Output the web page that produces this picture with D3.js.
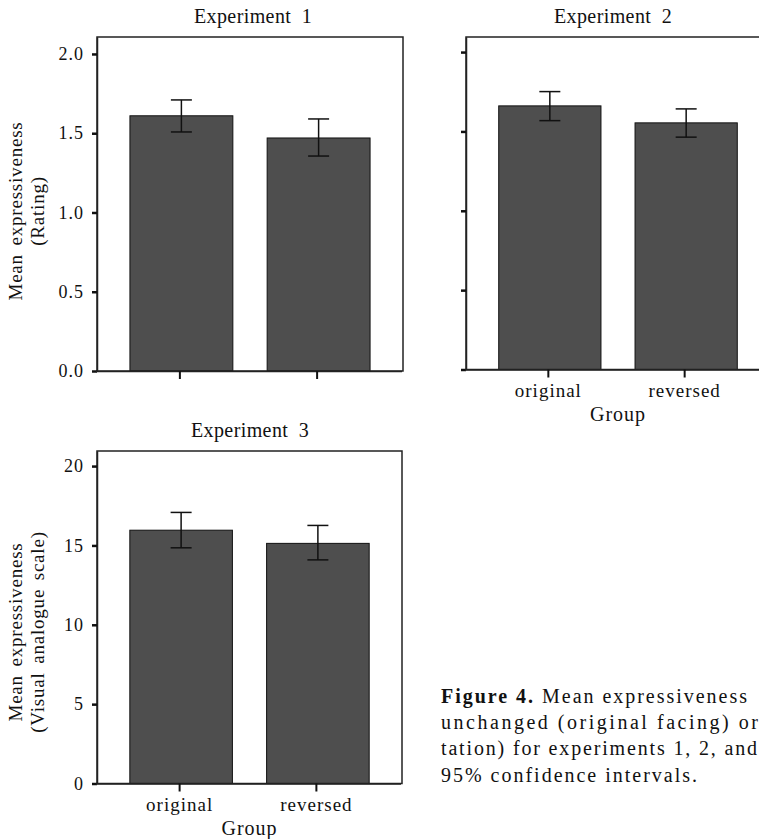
<!DOCTYPE html>
<html>
<head>
<meta charset="utf-8">
<script src="https://cdn.jsdelivr.net/npm/d3@7"></script>
<style>
  body { margin: 0; background: #fff; }
  svg { display: block; }
  text { font-family: "Liberation Serif", "Times New Roman", serif; fill: #111; }
</style>
</head>
<body>
<svg id="fig" width="759" height="839"></svg>
<script>
// data
var groups = ["original", "reversed"];

var exp1Mean = [1.61, 1.47];
var exp1Lo   = [1.508, 1.356];
var exp1Hi   = [1.71, 1.59];

var exp2Mean = [1.661, 1.554];
var exp2Lo   = [1.568, 1.464];
var exp2Hi   = [1.751, 1.642];

var exp3Mean = [15.96, 15.13];
var exp3Lo   = [14.85, 14.09];
var exp3Hi   = [17.08, 16.26];

var ratingTicks = [0, 0.5, 1.0, 1.5, 2.0];
var vasTicks = [0, 5, 10, 15, 20];

var captionLines = [
    "unchanged (original facing) or",
    "tation) for experiments 1, 2, and",
    "95% confidence intervals."
];
// visible width of each caption line (the block is justified)
var captionWidths = [306, 317, 316, 256];

var svg = d3.select('#fig');

function drawPanel(opt) {
    var x = d3.scaleBand()
        .domain(groups)
        .range([opt.left, opt.right])
        .paddingInner(0.25)
        .paddingOuter(0.24);

    var y = d3.scaleLinear()
        .domain([0, opt.yMax])
        .range([opt.bottom, opt.top]);

    var g = svg.append('g');

    var rows = groups.map(function (d, i) {
        return { group: d, mean: opt.mean[i], lo: opt.lo[i], hi: opt.hi[i] };
    });

    // bars
    g.selectAll('rect.bar')
        .data(rows)
        .enter()
        .append('rect')
        .attr('class', 'bar')
        .attr('x', function (d) { return x(d.group); })
        .attr('width', x.bandwidth())
        .attr('y', function (d) { return y(d.mean); })
        .attr('height', function (d) { return y(0) - y(d.mean); })
        .attr('fill', '#4e4e4e')
        .attr('stroke', '#111')
        .attr('stroke-width', 1);

    // error bars
    var cap = 10.5;
    var mid = function (d) { return x(d.group) + x.bandwidth() / 2; };
    var eb = g.selectAll('g.err')
        .data(rows)
        .enter()
        .append('g')
        .attr('class', 'err')
        .attr('stroke', '#111')
        .attr('stroke-width', 1.5);
    eb.append('line')
        .attr('x1', mid)
        .attr('x2', mid)
        .attr('y1', function (d) { return y(d.lo); })
        .attr('y2', function (d) { return y(d.hi); });
    eb.append('line')
        .attr('x1', function (d) { return mid(d) - cap; })
        .attr('x2', function (d) { return mid(d) + cap; })
        .attr('y1', function (d) { return y(d.hi); })
        .attr('y2', function (d) { return y(d.hi); });
    eb.append('line')
        .attr('x1', function (d) { return mid(d) - cap; })
        .attr('x2', function (d) { return mid(d) + cap; })
        .attr('y1', function (d) { return y(d.lo); })
        .attr('y2', function (d) { return y(d.lo); });

    // frame
    g.append('rect')
        .attr('x', opt.left)
        .attr('y', opt.top)
        .attr('width', opt.right - opt.left)
        .attr('height', opt.bottom - opt.top)
        .attr('fill', 'none')
        .attr('stroke', '#222')
        .attr('stroke-width', 1.5);

    // y axis
    var yAxis = d3.axisLeft(y)
        .tickValues(opt.ticks)
        .tickSize(5)
        .tickSizeOuter(0)
        .tickPadding(8)
        .tickFormat(opt.yLabels ? opt.fmt : '');
    var ya = g.append('g')
        .attr('transform', 'translate(' + opt.left + ',0)')
        .call(yAxis);
    ya.select('.domain').attr('stroke', '#222').attr('stroke-width', 1.5);
    ya.selectAll('.tick line').attr('stroke', '#111').attr('stroke-width', 2.5);
    ya.selectAll('.tick text')
        .style('font-family', '"Liberation Serif", "Times New Roman", serif')
        .style('font-size', '18px')
        .style('letter-spacing', '1px')
        .attr('fill', '#111');

    // x axis
    var xAxis = d3.axisBottom(x)
        .tickSize(8)
        .tickSizeOuter(0)
        .tickPadding(6)
        .tickFormat(opt.xLabels ? null : '');
    var xa = g.append('g')
        .attr('transform', 'translate(-1.5,' + opt.bottom + ')')
        .call(xAxis);
    xa.select('.domain').attr('stroke', '#222').attr('stroke-width', 1.5);
    xa.selectAll('.tick line').attr('stroke', '#111').attr('stroke-width', 2);
    xa.selectAll('.tick text')
        .style('font-family', '"Liberation Serif", "Times New Roman", serif')
        .style('font-size', '19px')
        .style('letter-spacing', '1px')
        .attr('fill', '#111');

    if (opt.xLabels) {
        g.append('text')
            .attr('x', (opt.left + opt.right) / 2)
            .attr('y', opt.bottom + 51)
            .attr('text-anchor', 'middle')
            .style('font-size', '20px')
            .style('letter-spacing', '1px')
            .text('Group');
    }

    // title
    g.append('text')
        .attr('x', opt.titleX)
        .attr('y', opt.top - 14)
        .attr('text-anchor', 'middle')
        .style('font-size', '20px')
        .style('letter-spacing', '0.4px')
        .style('word-spacing', '5px')
        .text(opt.title);

    // y title
    if (opt.yTitle) {
        var yt = g.append('text')
            .attr('transform', 'translate(0,' + opt.yTitleY + ') rotate(-90)')
            .attr('text-anchor', 'middle')
            .style('font-size', '19px')
            .style('letter-spacing', '0.8px')
            .style('word-spacing', '3px');
        yt.append('tspan').attr('x', 0).attr('y', 22).text(opt.yTitle[0]);
        yt.append('tspan').attr('x', 0).attr('y', 44).text(opt.yTitle[1]);
    }
}

drawPanel({
    title: 'Experiment 1', titleX: 253,
    left: 97, right: 403, top: 37, bottom: 371,
    yMax: 2.107, ticks: ratingTicks, fmt: d3.format('.1f'),
    mean: exp1Mean, lo: exp1Lo, hi: exp1Hi,
    yLabels: true, xLabels: false,
    yTitle: ['Mean expressiveness', '(Rating)'], yTitleY: 211
});

drawPanel({
    title: 'Experiment 2', titleX: 613,
    left: 466, right: 770, top: 37, bottom: 369.5,
    yMax: 2.095, ticks: ratingTicks, fmt: d3.format('.1f'),
    mean: exp2Mean, lo: exp2Lo, hi: exp2Hi,
    yLabels: false, xLabels: true
});

drawPanel({
    title: 'Experiment 3', titleX: 250,
    left: 97, right: 402, top: 451, bottom: 783.5,
    yMax: 20.95, ticks: vasTicks, fmt: d3.format('d'),
    mean: exp3Mean, lo: exp3Lo, hi: exp3Hi,
    yLabels: true, xLabels: true,
    yTitle: ['Mean expressiveness', '(Visual analogue scale)'], yTitleY: 632
});

// caption
var cap = svg.append('text')
    .attr('x', 441)
    .attr('y', 703)
    .attr('textLength', captionWidths[0])
    .attr('lengthAdjust', 'spacing')
    .style('font-size', '20px');
cap.append('tspan').style('font-weight', 'bold').text('Figure 4.');
cap.append('tspan').text(' Mean expressiveness');
captionLines.forEach(function (line, i) {
    svg.append('text')
        .attr('x', 441)
        .attr('y', 729 + i * 26.3)
        .attr('textLength', captionWidths[i + 1])
        .attr('lengthAdjust', 'spacing')
        .style('font-size', '20px')
        .text(line);
});
</script>
</body>
</html>
